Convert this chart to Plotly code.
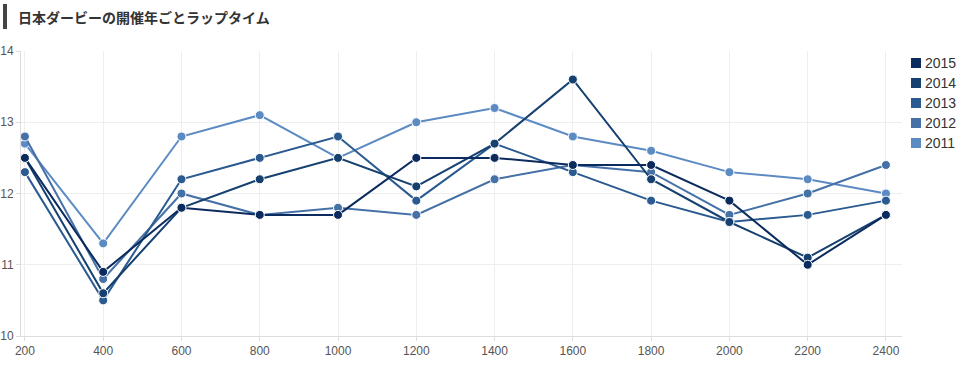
import plotly.graph_objects as go

distances = [200, 400, 600, 800, 1000, 1200, 1400, 1600, 1800, 2000, 2200, 2400]
years = ["2015", "2014", "2013", "2012", "2011"]
lap_2015 = [12.5, 10.9, 11.8, 11.7, 11.7, 12.5, 12.5, 12.4, 12.4, 11.9, 11.0, 11.7]
lap_2014 = [12.5, 10.6, 11.8, 12.2, 12.5, 12.1, 12.7, 13.6, 12.2, 11.6, 11.1, 11.7]
lap_2013 = [12.3, 10.5, 12.2, 12.5, 12.8, 11.9, 12.7, 12.3, 11.9, 11.6, 11.7, 11.9]
lap_2012 = [12.8, 10.8, 12.0, 11.7, 11.8, 11.7, 12.2, 12.4, 12.3, 11.7, 12.0, 12.4]
lap_2011 = [12.7, 11.3, 12.8, 13.1, 12.5, 13.0, 13.2, 12.8, 12.6, 12.3, 12.2, 12.0]
y_ticks = [10, 11, 12, 13, 14]

series = dict(zip(years, [lap_2015, lap_2014, lap_2013, lap_2012, lap_2011]))
colors = {"2015": "#0b2b5e", "2014": "#15406f", "2013": "#2a5a8f",
          "2012": "#4571a7", "2011": "#5c8bc3"}

fig = go.Figure()
for yr in reversed(years):
    fig.add_trace(go.Scatter(
        x=distances, y=series[yr], mode="lines+markers", name=yr,
        showlegend=False,
        line=dict(color=colors[yr], width=2),
        marker=dict(color=colors[yr], size=9, line=dict(color="white", width=1)),
    ))

FW, FH = 975, 365
L, R, T, B = 21, 902, 51, 336
W, H = R - L, B - T

def px(x):
    return (x - L) / W

def py(y):
    return (B - y) / H

# title bar + title
fig.add_shape(type="rect", xref="paper", yref="paper",
              x0=px(3), x1=px(7), y0=py(29), y1=py(4),
              fillcolor="#444444", line=dict(width=0))
fig.add_annotation(xref="paper", yref="paper", x=px(16), y=py(17),
                   text="<b>日本ダービーの開催年ごとラップタイム</b>",
                   showarrow=False, xanchor="left", yanchor="middle",
                   font=dict(family="Noto Sans CJK JP", size=14, color="#333333"))

# compact legend (squares + labels)
for i, yr in enumerate(years):
    cy = 63 + 20 * i
    fig.add_shape(type="rect", xref="paper", yref="paper",
                  x0=px(911), x1=px(921), y0=py(cy + 5), y1=py(cy - 5),
                  fillcolor=colors[yr], line=dict(width=0))
    fig.add_annotation(xref="paper", yref="paper", x=px(923), y=py(cy),
                       text=yr, showarrow=False, xanchor="left", yanchor="middle",
                       font=dict(family="Liberation Sans, Arial", size=14, color="#333333"))

fig.update_layout(
    width=FW, height=FH,
    margin=dict(l=L, r=FW - R, t=T, b=FH - B, autoexpand=False),
    paper_bgcolor="white", plot_bgcolor="white",
    showlegend=False,
    font=dict(family="Liberation Sans, Arial", color="#555555", size=12),
    xaxis=dict(range=[190, 2441], tickvals=distances,
               ticktext=[str(d) for d in distances],
               showgrid=True, gridcolor="#eeeeee", gridwidth=1,
               showline=True, linecolor="#dddddd", linewidth=1,
               ticks="outside", ticklen=4, tickcolor="#dddddd",
               zeroline=False, automargin=False,
               tickfont=dict(size=12, color="#555555")),
    yaxis=dict(range=[10, 14], tickvals=y_ticks,
               showgrid=True, gridcolor="#eeeeee", gridwidth=1,
               showline=True, linecolor="#dddddd", linewidth=1,
               ticks="outside", ticklen=4, tickcolor="#dddddd",
               zeroline=False, automargin=False,
               tickfont=dict(size=12, color="#555555")),
)

fig.write_html("out.html",
               config={"displayModeBar": False},
               post_script="document.body.style.margin='0';document.body.style.overflow='hidden';")
